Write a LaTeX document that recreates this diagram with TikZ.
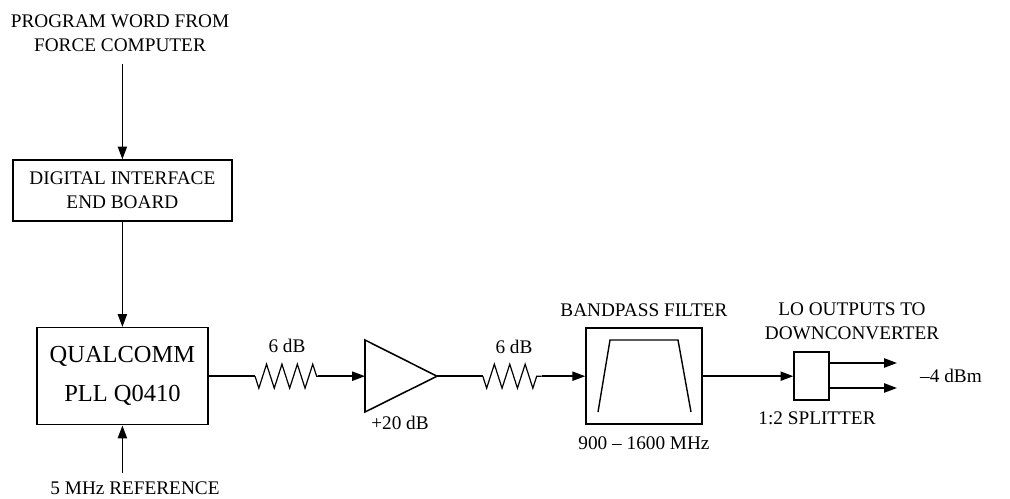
\documentclass[tikz,border=0pt]{standalone}
\usepackage{fontspec}
\setmainfont{Liberation Serif}
\usetikzlibrary{positioning,arrows.meta}
\usetikzlibrary{decorations.pathmorphing}

\tikzset{
  box/.style={draw, line width=1.1pt, inner sep=0pt, align=center},
  lbl/.style={font=\fontsize{13.7}{17}\selectfont, align=center, inner sep=0pt},
  wire/.style={line width=1pt},
  sig/.style={wire, -{Triangle[length=0.32cm,width=0.23cm]}},
  res/.style={line width=0.85pt, decorate, decoration={zigzag,segment length=0.385cm,amplitude=0.3cm,mirror}}
}

\begin{document}
\begin{tikzpicture}
    \useasboundingbox (0,0) rectangle (25.25,12.475);
%
    \node[box, lbl, minimum width=5.475cm, minimum height=1.525cm] (dig) at (3.06,7.71) {DIGITAL INTERFACE\\END BOARD};
    \node[box, font=\fontsize{17.4}{28}\selectfont, minimum width=4.275cm, minimum height=2.425cm] (qual) at (3.06,3.07) {QUALCOMM\\PLL Q0410};
    \node[box, minimum width=2.9cm, minimum height=2.4cm] (filt) at (16.1,3.07) {};
    \node[box, minimum width=0.875cm, minimum height=1.2cm] (split) at (20.29,3.07) {};
%
    \node[lbl] (prog) at (3.0,11.65) {PROGRAM WORD FROM\\FORCE COMPUTER};
    \node[lbl] (ref) at (3.375,0.27) {5 MHz REFERENCE};
    \node[lbl] (att1) at (7.175,3.825) {6 dB};
    \node[lbl] (gain) at (10,1.9) {+20 dB};
    \node[lbl] (att2) at (12.85,3.8) {6 dB};
    \node[lbl] (bp) at (16.1,4.725) {BANDPASS FILTER};
    \node[lbl] (band) at (16.1,1.4) {900 -- 1600 MHz};
    \node[lbl] (lo) at (21.3,4.45) {LO OUTPUTS TO\\DOWNCONVERTER};
    \node[lbl] (spl) at (20.425,2.025) {1:2 SPLITTER};
    \node[lbl] (lvl) at (23.775,3.07) {--4 dBm};
%
    \node[coordinate] (progEnd) at (3.06,10.875) {};
    \node[coordinate] (refEnd) at (3.06,0.65) {};
    \node[coordinate] (r1a) at (6.375,3.07) {};
    \node[coordinate] (r1b) at (7.95,3.07) {};
    \node[coordinate] (r2a) at (12.07,3.07) {};
    \node[coordinate] (r2b) at (13.54,3.07) {};
    \node[coordinate] (ampIn) at (9.125,3.07) {};
    \node[coordinate] (ampTop) at (9.125,3.975) {};
    \node[coordinate] (ampBot) at (9.125,2.175) {};
    \node[coordinate] (ampOut) at (10.925,3.07) {};
    \node[coordinate] (out1) at (22.425,3.4) {};
    \node[coordinate] (out2) at (22.425,2.775) {};
%
    \draw[line width=1.1pt] (ampTop) -- (ampOut) -- (ampBot) -- cycle;
    \draw[wire] (14.95,2.175) -- (15.25,3.975) -- (16.95,3.975) -- (17.275,2.175);
%
    \draw[sig] (progEnd) -- (dig.north);
    \draw[sig] (dig.south) -- (qual.north);
    \draw[sig] (refEnd) -- (qual.south);
    \draw[wire] (qual.east) -- (r1a);
    \draw[res] (r1a) -- (r1b);
    \draw[sig] (r1b) -- (ampIn);
    \draw[wire] (ampOut) -- (r2a);
    \draw[res] (r2a) -- (r2b);
    \draw[sig] (r2b) -- (filt.west);
    \draw[sig] (filt.east) -- (split.west);
    \draw[sig] (split.east |- out1) -- (out1);
    \draw[sig] (split.east |- out2) -- (out2);
\end{tikzpicture}
\end{document}
